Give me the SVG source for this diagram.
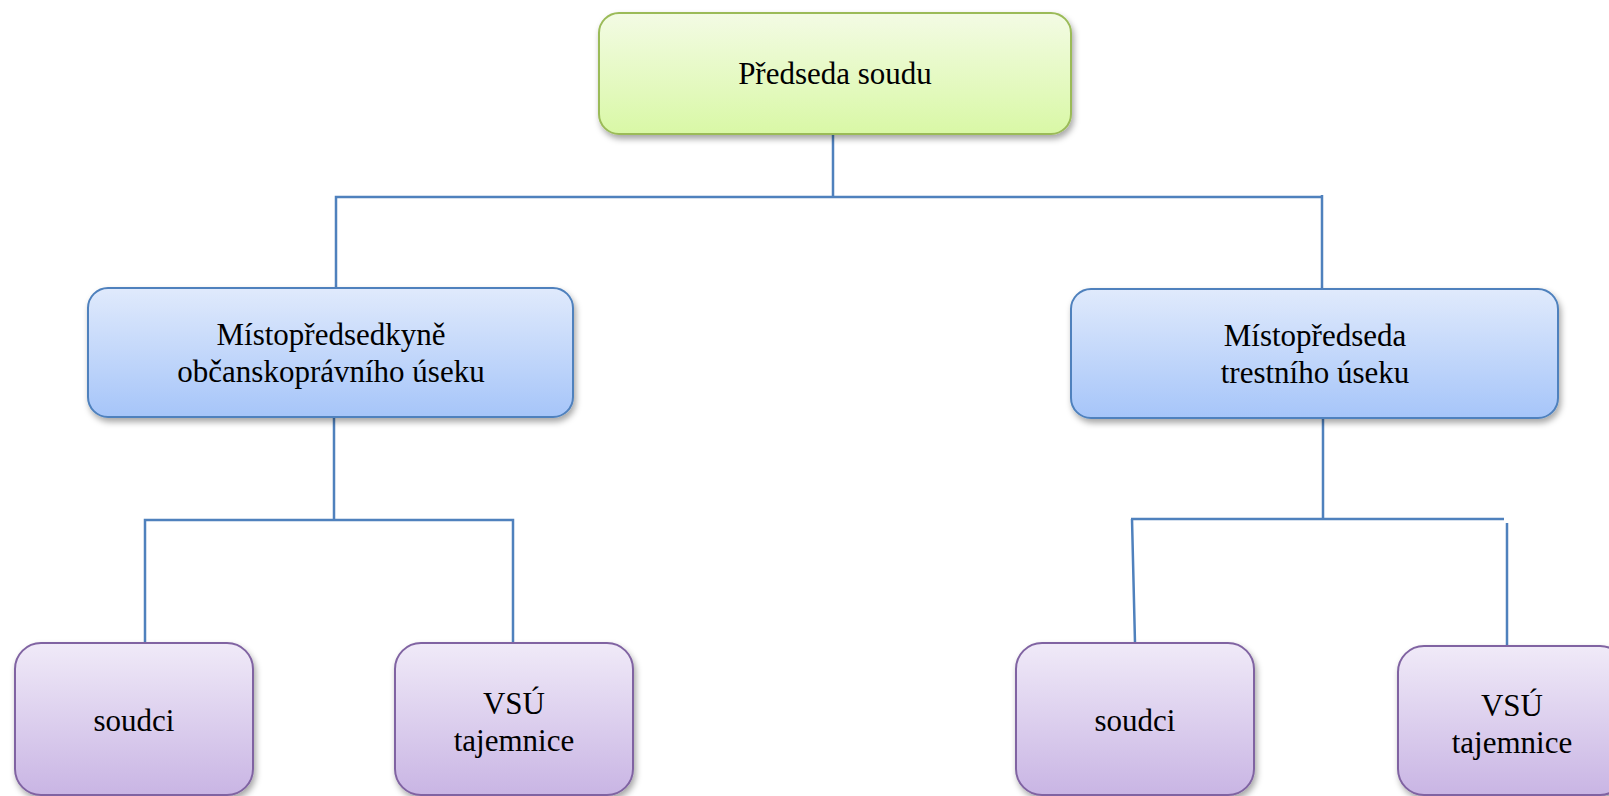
<svg xmlns="http://www.w3.org/2000/svg" width="1609" height="796" viewBox="0 0 1609 796">
<defs>
<linearGradient id="gGreen" x1="0" y1="0" x2="0" y2="1"><stop offset="0" stop-color="#f3fbe4"/><stop offset="1" stop-color="#d9f8a6"/></linearGradient>
<linearGradient id="gBlue" x1="0" y1="0" x2="0" y2="1"><stop offset="0" stop-color="#e0eafc"/><stop offset="1" stop-color="#a6c5f9"/></linearGradient>
<linearGradient id="gPurple" x1="0" y1="0" x2="0" y2="1"><stop offset="0" stop-color="#f0eaf8"/><stop offset="1" stop-color="#c9b5e4"/></linearGradient>
<filter id="sh" x="-10%" y="-10%" width="125%" height="130%"><feDropShadow dx="2" dy="4" stdDeviation="3" flood-color="#000" flood-opacity="0.35"/></filter>
</defs>
<style>
.box{stroke-width:2;filter:url(#sh)}
.green{fill:url(#gGreen);stroke:#9bbb59}
.blue{fill:url(#gBlue);stroke:#4f81bd}
.purple{fill:url(#gPurple);stroke:#8064a2}
.t{font-family:"Liberation Serif",serif;font-size:31px;fill:#000;text-anchor:middle}
.c{fill:none;stroke:#4f81bd;stroke-width:2.5}
</style>
<rect width="1609" height="796" fill="#fff"/>
<g id="connectors">
<path class="c" d="M833 134V197M336 288V197H1322M1322 195V289"/>
<path class="c" d="M334 417V520M145 643V520H513V643"/>
<path class="c" d="M1323 418V519M1131 519H1504M1132 519L1135 643M1507 523V646"/>
</g>
<g id="predseda"><rect class="box green" x="599" y="13" width="472" height="121" rx="20"/><text class="t" x="835" y="84">Předseda soudu</text></g>
<g id="mistopredsedkyne"><rect class="box blue" x="88" y="288" width="485" height="129" rx="20"/><text class="t" x="331" y="345">Místopředsedkyně</text><text class="t" x="331" y="382">občanskoprávního úseku</text></g>
<g id="mistopredseda"><rect class="box blue" x="1071" y="289" width="487" height="129" rx="20"/><text class="t" x="1315" y="346">Místopředseda</text><text class="t" x="1315" y="383">trestního úseku</text></g>
<g id="soudci1"><rect class="box purple" x="15" y="643" width="238" height="152" rx="26"/><text class="t" x="134" y="731">soudci</text></g>
<g id="vsu1"><rect class="box purple" x="395" y="643" width="238" height="152" rx="26"/><text class="t" x="514" y="714">VSÚ</text><text class="t" x="514" y="751">tajemnice</text></g>
<g id="soudci2"><rect class="box purple" x="1016" y="643" width="238" height="152" rx="26"/><text class="t" x="1135" y="731">soudci</text></g>
<g id="vsu2"><rect class="box purple" x="1398" y="646" width="228" height="149" rx="26"/><text class="t" x="1512" y="716">VSÚ</text><text class="t" x="1512" y="753">tajemnice</text></g>
</svg>
